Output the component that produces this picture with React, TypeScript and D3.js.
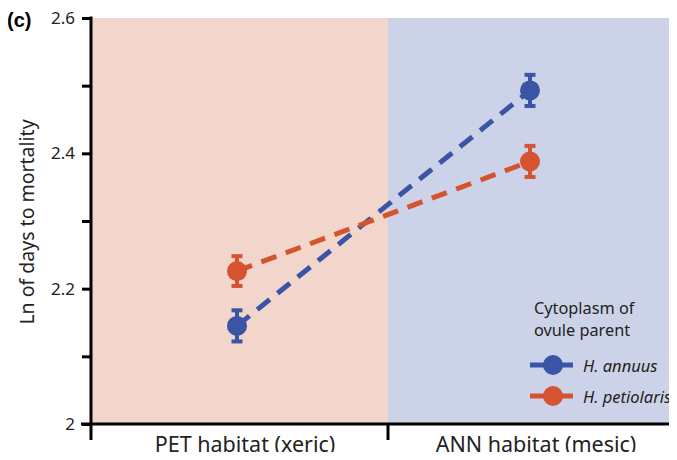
import React, { useRef, useEffect } from 'react'
import * as d3 from 'd3'

const habitats = ['PET habitat (xeric)', 'ANN habitat (mesic)']
const seriesNames = ['H. annuus', 'H. petiolaris']
const annuusMeans = [2.145, 2.493]
const annuusErr = [0.023, 0.023]
const petiolarisMeans = [2.226, 2.388]
const petiolarisErr = [0.022, 0.023]
const yTicks = [2, 2.1, 2.2, 2.3, 2.4, 2.5, 2.6]
const yLabels = ['2', '', '2.2', '', '2.4', '', '2.6']

const colors = ['#3a54a6', '#d5532f']
const bgColors = ['#f2d5cb', '#ccd3e8']

export default function App() {
  const ref = useRef<SVGSVGElement>(null)
  const w = 677
  const h = 460

  useEffect(() => {
    const svg = d3.select(ref.current)
    svg.selectAll('*').remove()
    const font = "'Noto Sans', 'Open Sans', sans-serif"

    const left = 91, right = 677, top = 18, bottom = 424, mid = 388
    const y = d3.scaleLinear().domain([2, 2.6]).range([bottom, top])
    // point positions inside each habitat
    const x = d3.scalePoint().domain(habitats).range([237, 530])
    const labelX = d3.scalePoint().domain(habitats).range([245, 536])

    // habitat backgrounds
    const edges = [left, mid, right]
    svg.selectAll('rect.bg')
      .data(habitats)
      .enter()
      .append('rect')
      .attr('class', 'bg')
      .attr('x', (d, i) => edges[i])
      .attr('y', top)
      .attr('width', (d, i) => edges[i + 1] - edges[i])
      .attr('height', bottom - top)
      .attr('fill', (d, i) => bgColors[i])

    const series = [
      { name: seriesNames[0], means: annuusMeans, err: annuusErr, color: colors[0] },
      { name: seriesNames[1], means: petiolarisMeans, err: petiolarisErr, color: colors[1] },
    ]

    // dashed lines first
    series.forEach(s => {
      const line = d3.line<number>()
        .x((d, i) => x(habitats[i])!)
        .y(d => y(d))
      svg.append('path')
        .attr('d', line(s.means))
        .attr('fill', 'none')
        .attr('stroke', s.color)
        .attr('stroke-width', 5)
        .attr('stroke-dasharray', '16 10')
    })

    series.forEach(s => {
      const g = svg.append('g')
      s.means.forEach((m, i) => {
        const cx = x(habitats[i])!
        g.append('line')
          .attr('x1', cx).attr('x2', cx)
          .attr('y1', y(m - s.err[i])).attr('y2', y(m + s.err[i]))
          .attr('stroke', s.color).attr('stroke-width', 4)
        ;[m - s.err[i], m + s.err[i]].forEach(v => {
          g.append('line')
            .attr('x1', cx - 5.5).attr('x2', cx + 5.5)
            .attr('y1', y(v)).attr('y2', y(v))
            .attr('stroke', s.color).attr('stroke-width', 4)
        })
        g.append('circle')
          .attr('cx', cx).attr('cy', y(m)).attr('r', 10)
          .attr('fill', s.color)
      })
    })

    // y axis
    const yAxis = d3.axisLeft(y)
      .tickValues(yTicks)
      .tickSize(9)
      .tickPadding(7)
      .tickFormat((d, i) => yLabels[i])
    const ga = svg.append('g')
      .attr('transform', `translate(${left},0)`)
      .call(yAxis)
    ga.select('.domain').remove()
    ga.selectAll('line').attr('stroke', '#000').attr('stroke-width', 3)
    ga.selectAll('text').style('font-family', font).style('font-size', '17px').attr('fill', '#222')
    svg.append('line').attr('x1', left).attr('x2', left).attr('y1', top - 1.5).attr('y2', 440)
      .attr('stroke', '#000').attr('stroke-width', 3)

    // x axis
    svg.append('line').attr('x1', 81).attr('x2', right).attr('y1', bottom).attr('y2', bottom)
      .attr('stroke', '#000').attr('stroke-width', 3)
    svg.append('line').attr('x1', mid).attr('x2', mid).attr('y1', bottom).attr('y2', 440)
      .attr('stroke', '#000').attr('stroke-width', 3)
    svg.selectAll('text.xl')
      .data(habitats)
      .enter()
      .append('text')
      .attr('class', 'xl')
      .attr('x', d => labelX(d)!)
      .attr('y', 452)
      .attr('text-anchor', 'middle')
      .style('font-family', font)
      .style('font-size', '21.5px')
      .attr('fill', '#222')
      .text(d => d)

    // y label
    svg.append('text')
      .attr('transform', 'rotate(-90)')
      .attr('x', -222)
      .attr('y', 34)
      .attr('text-anchor', 'middle')
      .style('font-family', font)
      .style('font-size', '19.5px')
      .attr('fill', '#222')
      .text('Ln of days to mortality')

    svg.append('text')
      .attr('x', 7).attr('y', 27)
      .style('font-family', "'Liberation Sans', Arial, sans-serif")
      .style('font-size', '20px').style('font-weight', 'bold')
      .text('(c)')

    // legend
    svg.append('text').attr('x', 534).attr('y', 314)
      .style('font-family', font).style('font-size', '16.3px').attr('fill', '#222')
      .text('Cytoplasm of')
    svg.append('text').attr('x', 534).attr('y', 335.5)
      .style('font-family', font).style('font-size', '16.3px').attr('fill', '#222')
      .text('ovule parent')
    series.forEach((s, i) => {
      const ly = 365 + i * 31
      svg.append('line').attr('x1', 530).attr('x2', 573).attr('y1', ly).attr('y2', ly)
        .attr('stroke', s.color).attr('stroke-width', 5)
      svg.append('circle').attr('cx', 553).attr('cy', ly).attr('r', 10).attr('fill', s.color)
      svg.append('text').attr('x', 583).attr('y', ly + 6.5)
        .style('font-family', font).style('font-size', '16.5px').style('font-style', 'italic')
        .attr('fill', '#222')
        .text(s.name)
    })
  }, [])

  return (
    <div style={{ margin: -8 }}>
      <svg ref={ref} width={w} height={h} style={{ display: 'block', background: '#fff' }} />
    </div>
  )
}
